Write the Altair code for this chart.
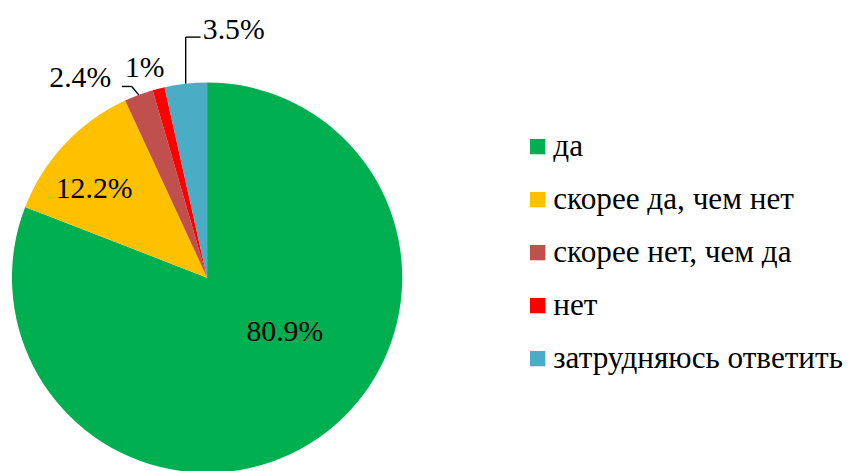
import altair as alt
import pandas as pd

# ---- data ----
categories = ["да", "скорее да, чем нет", "скорее нет, чем да", "нет", "затрудняюсь ответить"]
values = [80.9, 12.2, 2.4, 1.0, 3.5]
label_texts = ["80.9%", "12.2%", "2.4%", "1%", "3.5%"]

# ---- styling / layout ----
colors = ["#00B050", "#FFC000", "#C0504D", "#FF0000", "#4BACC6"]
CX, CY, R = 201, 270, 197
FONT = "Liberation Serif"
LABEL_SIZE = 30
LEGEND_SIZE = 31.5
# label anchor radius and pixel offsets from the mid-angle point
label_r = [100, 140, 197, 215, 197]
label_dx = [22, -12, -59, -9.5, 48.5]
label_dy = [-27.6, 6, -16.5, -3.7, -54.2]
# leader line offsets (elbow a, end b) relative to slice edge point; 0 = no leader
has_leader = [0, 0, 1, 0, 1]
lead_ax = [0, 0, -7, 0, 0]
lead_ay = [0, 0, -8.5, 0, -47]
lead_bx = [0, 0, -17, 0, 15]
lead_by = [0, 0, -8.5, 0, -47]

df = pd.DataFrame({
    "cat": categories,
    "value": values,
    "label": label_texts,
    "idx": list(range(len(categories))),
    "lr": label_r, "ldx": label_dx, "ldy": label_dy,
    "lead": has_leader, "ax": lead_ax, "ay": lead_ay, "bx": lead_bx, "by": lead_by,
})

base = alt.Chart(df)

pie = base.mark_arc(radius=R).encode(
    theta=alt.Theta("value:Q", stack=True),
    order=alt.Order("idx:Q"),
    color=alt.Color(
        "cat:N",
        scale=alt.Scale(domain=categories, range=colors),
        legend=alt.Legend(
            title=None, orient="none", legendX=519, legendY=122,
            symbolType="square", symbolSize=240, symbolStrokeWidth=0,
            labelFont=FONT, labelFontSize=LEGEND_SIZE, labelColor="black",
            rowPadding=52 - LEGEND_SIZE, labelOffset=0, padding=0, labelLimit=400,
        ),
    ),
    x=alt.value(CX), y=alt.value(CY),
)

geo = base.transform_window(
    cum="sum(value)", sort=[alt.SortField("idx")], frame=[None, 0]
).transform_joinaggregate(
    total="sum(value)"
).transform_calculate(
    mid="2*PI*(datum.cum - datum.value/2)/datum.total"
).transform_calculate(
    lx=f"{CX} + datum.lr*sin(datum.mid) + datum.ldx",
    ly=f"{CY} - datum.lr*cos(datum.mid) + datum.ldy",
    ex=f"{CX} + {R}*sin(datum.mid)",
    ey=f"{CY} - {R}*cos(datum.mid)",
).transform_calculate(
    axp="datum.ex + datum.ax", ayp="datum.ey + datum.ay",
    bxp="datum.ex + datum.bx", byp="datum.ey + datum.by",
)

labels = geo.mark_text(font=FONT, fontSize=LABEL_SIZE, color="black", baseline="middle", align="center").encode(
    x=alt.X("lx:Q", scale=None, axis=None),
    y=alt.Y("ly:Q", scale=None, axis=None),
    text="label:N",
)

leaders = geo.transform_filter("datum.lead == 1")
seg1 = leaders.mark_rule(color="black", strokeWidth=1.4).encode(
    x=alt.X("ex:Q", scale=None, axis=None), y=alt.Y("ey:Q", scale=None, axis=None),
    x2="axp:Q", y2="ayp:Q",
)
seg2 = leaders.mark_rule(color="black", strokeWidth=1.4).encode(
    x=alt.X("axp:Q", scale=None, axis=None), y=alt.Y("ayp:Q", scale=None, axis=None),
    x2="bxp:Q", y2="byp:Q",
)

chart = alt.layer(pie, seg1, seg2, labels).properties(
    width=844, height=463, padding=0,
    autosize=alt.AutoSizeParams(type="none"),
).configure_view(stroke=None)

chart.save("out.html", embed_options={"renderer": "svg", "actions": False})
